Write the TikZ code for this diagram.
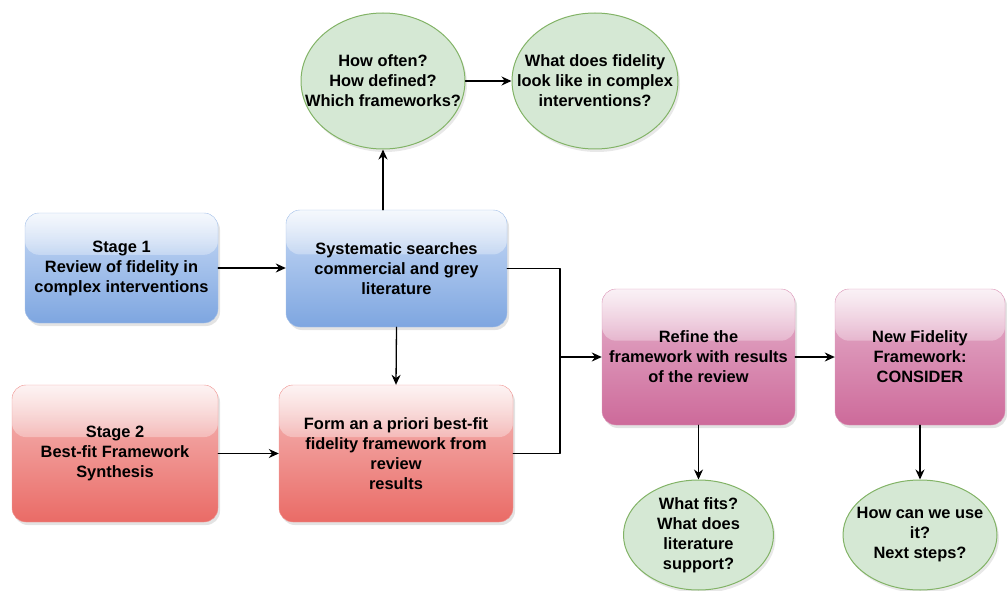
\documentclass[tikz,border=0pt]{standalone}
\usepackage{fontspec}
\setmainfont{Liberation Sans}
\usetikzlibrary{shapes.geometric,shadows,arrows.meta,calc,fadings}

\definecolor{blueTop}{HTML}{C9DBF6}
\definecolor{blueBot}{HTML}{7EA6E0}
\definecolor{redTop}{HTML}{F5BDBC}
\definecolor{redBot}{HTML}{EA6B66}
\definecolor{pinkTop}{HTML}{E6B3CD}
\definecolor{pinkBot}{HTML}{CD6A9A}
\definecolor{qFill}{HTML}{D5E8D4}
\definecolor{qEdge}{HTML}{82B366}

\tikzset{
  box/.style={rectangle, rounded corners=14pt, align=center, inner sep=2pt,
    font=\bfseries\fontsize{16.4}{20}\selectfont,
    drop shadow={opacity=0.22, shadow xshift=2pt, shadow yshift=-3pt},
    path picture={
      \fill[white, opacity=0.3] (path picture bounding box.north west) rectangle
        ($(path picture bounding box.north east)!0.38!(path picture bounding box.south east)$);
      \fill[white, opacity=0.75, path fading=south] (path picture bounding box.north west) rectangle
        ($(path picture bounding box.north east)!0.38!(path picture bounding box.south east)$);}},
  bluebox/.style={box, top color=blueTop, bottom color=blueBot, draw=blueBot!70!white},
  redbox/.style={box, top color=redTop, bottom color=redBot, draw=redBot!70!white},
  pinkbox/.style={box, top color=pinkTop, bottom color=pinkBot, draw=pinkBot!70!white},
  question/.style={ellipse, draw=qEdge, fill=qFill, line width=1pt, align=center,
    inner xsep=-30pt, inner ysep=-4pt,
    font=\bfseries\fontsize{16.4}{20}\selectfont,
    drop shadow={opacity=0.18, shadow xshift=2pt, shadow yshift=-3pt}},
  link/.style={-{Stealth[length=10pt,width=9pt]}, line width=1.3pt}
}

\begin{document}
\begin{tikzpicture}[x=1pt, y=-1pt, line cap=round, line join=round]
  \useasboundingbox (0,0) rectangle (1007,591);

  % stage 1 row
  \node[bluebox, minimum width=193pt, minimum height=110pt] (stage1) at (121.5,268)
    {Stage 1\\Review of fidelity in\\complex interventions};
  \node[bluebox, minimum width=221pt, minimum height=117pt] (search) at (396.5,268.5)
    {Systematic searches\\commercial and grey\\literature};

  % stage 2 row
  \node[redbox, minimum width=206pt, minimum height=137pt] (stage2) at (115,453.5)
    {Stage 2\\Best-fit Framework\\Synthesis};
  \node[redbox, minimum width=234pt, minimum height=137pt] (apriori) at (396,453.5)
    {Form an a priori best-fit\\fidelity framework from\\review\\results};

  % right hand side
  \node[pinkbox, minimum width=193pt, minimum height=136pt] (refine) at (698.5,357)
    {Refine the\\framework with results\\of the review};
  \node[pinkbox, minimum width=170pt, minimum height=136pt] (newfw) at (920,357)
    {New Fidelity\\Framework:\\CONSIDER};

  % questions
  \node[question, minimum width=164pt, minimum height=136pt] (howoften) at (383,81)
    {How often?\\How defined?\\Which frameworks?};
  \node[question, minimum width=166pt, minimum height=136pt] (looklike) at (595,81)
    {What does fidelity\\look like in complex\\interventions?};
  \node[question, minimum width=150pt, minimum height=110pt] (fits) at (698.5,535)
    {What fits?\\What does\\literature\\support?};
  \node[question, minimum width=154pt, minimum height=110pt] (useit) at (920,535)
    {How can we use\\it?\\Next steps?};

  % connectors
  \coordinate (merge) at (560,357);
  \draw[link] (stage1.east) -- (stage1.east -| search.west);
  \draw[link] (stage2.east) -- (stage2.east -| apriori.west);
  \draw[link] (search.north -| howoften.south) -- (howoften.south);
  \draw[link] (howoften.east) -- (looklike.west);
  \draw[link] (search.south) -- (apriori.north);
  \draw[line width=1.3pt] (search.east) -| (merge);
  \draw[line width=1.3pt] (apriori.east) -| (merge);
  \draw[link] (merge) -- (refine.west);
  \draw[link] (refine.east) -- (newfw.west);
  \draw[link] (refine.south) -- (fits.north);
  \draw[link] (newfw.south) -- (useit.north);
\end{tikzpicture}
\end{document}
